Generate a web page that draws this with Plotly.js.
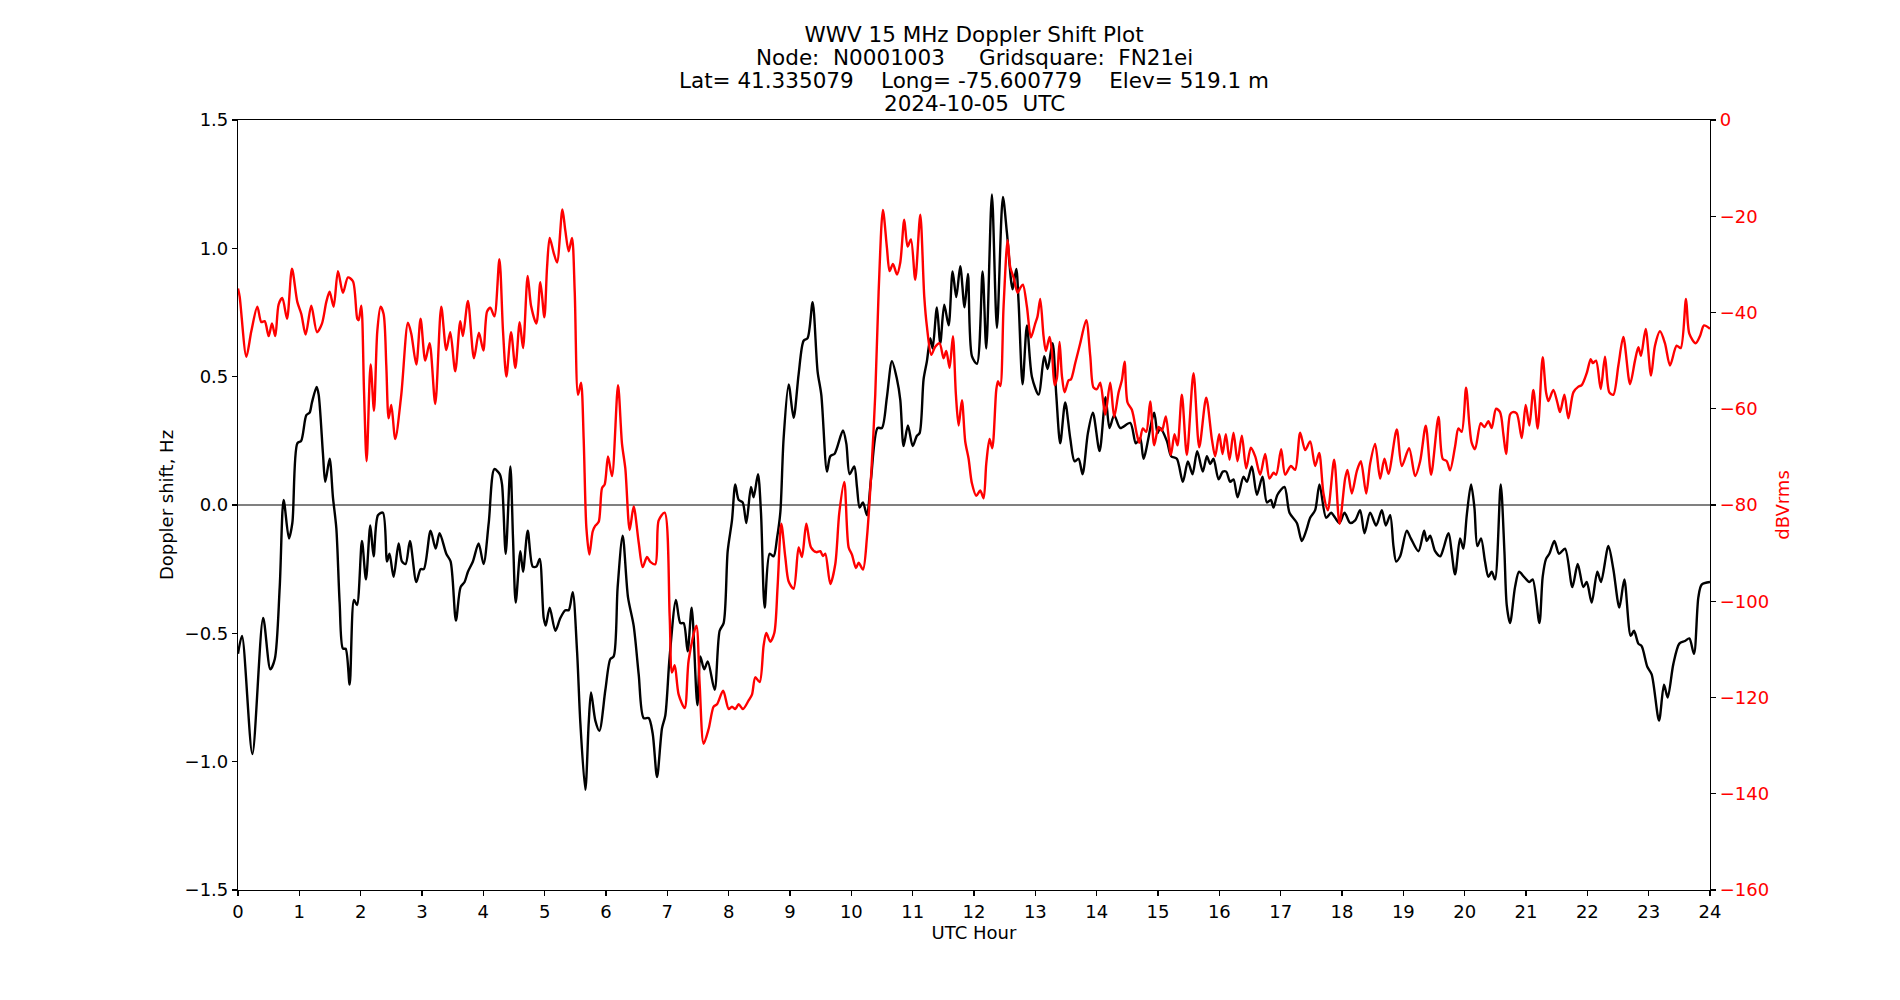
<!DOCTYPE html>
<html>
<head>
<meta charset="utf-8">
<script src="https://cdn.plot.ly/plotly-3.0.1.min.js"></script>
<style>html,body{margin:0;padding:0;background:#fff;}#chart{width:1900px;height:1000px;}</style>
</head>
<body>
<div id="chart"></div>
<script>
// ---- Data ----
const titleLines = [
  "WWV 15 MHz Doppler Shift Plot",
  "Node:  N0001003     Gridsquare:  FN21ei",
  "Lat= 41.335079    Long= -75.600779    Elev= 519.1 m",
  "2024-10-05  UTC"
];
const xLabel = "UTC Hour";
const yLabel = "Doppler shift, Hz";
const y2Label = "dBVrms";

const dopplerHour = [0.0,0.065,0.234,0.41,0.527,0.60,0.68,0.744,0.83,0.886,0.967,1.03,1.114,1.168,1.206,1.282,1.315,1.385,1.423,1.494,1.548,1.603,1.657,1.711,1.755,1.82,1.891,1.94,2.021,2.086,2.157,2.211,2.282,2.363,2.43,2.47,2.537,2.619,2.673,2.733,2.803,2.907,2.977,3.03,3.14,3.222,3.287,3.396,3.466,3.553,3.629,3.694,3.749,3.83,3.923,4.004,4.088,4.18,4.267,4.305,4.365,4.441,4.484,4.528,4.604,4.647,4.724,4.805,4.865,4.919,4.984,5.017,5.082,5.174,5.256,5.337,5.392,5.457,5.528,5.582,5.663,5.718,5.756,5.826,5.892,5.99,6.071,6.125,6.19,6.272,6.359,6.451,6.533,6.614,6.696,6.761,6.832,6.913,6.967,7.038,7.141,7.212,7.266,7.331,7.397,7.489,7.538,7.60,7.66,7.771,7.853,7.918,7.984,8.054,8.108,8.163,8.228,8.288,8.364,8.407,8.478,8.527,8.587,8.668,8.733,8.788,8.842,8.896,8.978,9.059,9.141,9.222,9.287,9.369,9.45,9.51,9.603,9.657,9.728,9.863,9.918,9.972,10.048,10.092,10.135,10.189,10.255,10.32,10.428,10.499,10.58,10.662,10.744,10.798,10.852,10.923,11.0,11.069,11.113,11.178,11.232,11.287,11.325,11.395,11.45,11.515,11.586,11.651,11.711,11.776,11.846,11.901,11.966,12.048,12.14,12.2,12.292,12.374,12.471,12.537,12.629,12.689,12.727,12.792,12.863,12.944,13.053,13.145,13.2,13.281,13.341,13.406,13.487,13.569,13.64,13.705,13.77,13.857,13.938,14.047,14.145,14.21,14.286,14.384,14.547,14.639,14.71,14.764,14.938,14.992,15.036,15.144,15.215,15.307,15.405,15.487,15.563,15.639,15.73,15.797,15.851,15.905,15.987,16.057,16.112,16.177,16.231,16.297,16.394,16.449,16.53,16.612,16.704,16.775,16.84,16.883,16.948,17.062,17.144,17.264,17.345,17.416,17.481,17.562,17.633,17.742,17.823,17.888,17.959,18.041,18.133,18.214,18.296,18.367,18.459,18.557,18.649,18.714,18.785,18.839,18.883,18.948,19.056,19.122,19.247,19.339,19.382,19.437,19.518,19.6,19.653,19.735,19.843,19.925,19.979,20.034,20.104,20.159,20.207,20.267,20.332,20.387,20.441,20.495,20.588,20.648,20.686,20.74,20.821,20.887,20.968,21.055,21.109,21.218,21.272,21.327,21.381,21.463,21.539,21.636,21.756,21.843,21.935,21.99,22.071,22.163,22.223,22.343,22.424,22.522,22.603,22.707,22.761,22.832,22.886,22.978,23.049,23.169,23.25,23.31,23.402,23.5,23.592,23.663,23.739,23.81,23.864,24.0];
const dopplerHz = [-0.58,-0.51,-0.97,-0.44,-0.64,-0.60,-0.32,0.02,-0.13,-0.07,0.24,0.25,0.35,0.36,0.40,0.46,0.43,0.20,0.09,0.18,0.03,-0.09,-0.38,-0.56,-0.56,-0.70,-0.37,-0.39,-0.14,-0.29,-0.08,-0.20,-0.04,-0.03,-0.22,-0.19,-0.28,-0.15,-0.22,-0.23,-0.14,-0.30,-0.25,-0.25,-0.10,-0.17,-0.11,-0.19,-0.22,-0.45,-0.32,-0.30,-0.26,-0.22,-0.15,-0.23,-0.07,0.14,0.12,0.08,-0.19,0.15,-0.13,-0.38,-0.18,-0.26,-0.10,-0.24,-0.24,-0.21,-0.44,-0.47,-0.40,-0.49,-0.44,-0.41,-0.41,-0.34,-0.57,-0.85,-1.11,-0.85,-0.73,-0.84,-0.88,-0.72,-0.60,-0.59,-0.32,-0.12,-0.36,-0.47,-0.66,-0.83,-0.83,-0.89,-1.06,-0.87,-0.82,-0.59,-0.37,-0.46,-0.46,-0.57,-0.40,-0.78,-0.59,-0.64,-0.61,-0.72,-0.49,-0.46,-0.18,-0.06,0.08,0.02,0.01,-0.07,0.07,0.03,0.12,-0.03,-0.40,-0.19,-0.20,-0.13,-0.03,0.26,0.47,0.34,0.51,0.64,0.65,0.79,0.52,0.43,0.13,0.19,0.20,0.29,0.24,0.12,0.15,0.07,-0.01,0.01,-0.04,0.10,0.30,0.30,0.42,0.56,0.49,0.41,0.23,0.31,0.23,0.27,0.28,0.49,0.56,0.65,0.61,0.77,0.63,0.78,0.70,0.91,0.81,0.93,0.77,0.90,0.58,0.55,0.91,0.61,1.21,0.69,1.20,1.06,0.84,0.92,0.79,0.47,0.70,0.50,0.43,0.58,0.53,0.63,0.43,0.24,0.40,0.26,0.17,0.18,0.12,0.28,0.36,0.21,0.42,0.30,0.35,0.30,0.32,0.24,0.26,0.18,0.36,0.28,0.30,0.25,0.19,0.18,0.09,0.17,0.12,0.21,0.13,0.19,0.16,0.18,0.10,0.13,0.13,0.09,0.10,0.03,0.11,0.09,0.15,0.04,0.11,0.01,0.02,-0.01,0.04,0.07,-0.03,-0.07,-0.14,-0.10,-0.05,-0.02,0.08,-0.05,-0.03,-0.05,-0.07,-0.03,-0.07,-0.06,-0.02,-0.11,-0.03,-0.08,-0.02,-0.08,-0.04,-0.16,-0.22,-0.20,-0.10,-0.13,-0.18,-0.10,-0.14,-0.12,-0.18,-0.20,-0.17,-0.11,-0.27,-0.13,-0.17,-0.04,0.08,-0.01,-0.16,-0.13,-0.22,-0.28,-0.26,-0.29,0.08,-0.18,-0.39,-0.46,-0.32,-0.26,-0.28,-0.30,-0.29,-0.46,-0.28,-0.21,-0.19,-0.14,-0.19,-0.17,-0.32,-0.23,-0.32,-0.30,-0.38,-0.26,-0.30,-0.16,-0.25,-0.40,-0.29,-0.51,-0.49,-0.54,-0.55,-0.63,-0.66,-0.84,-0.70,-0.75,-0.62,-0.54,-0.53,-0.52,-0.58,-0.36,-0.31,-0.30];

const signalHour = [0.0,0.027,0.136,0.217,0.315,0.38,0.435,0.5,0.554,0.608,0.663,0.723,0.799,0.88,0.967,1.032,1.103,1.195,1.288,1.369,1.44,1.494,1.559,1.63,1.711,1.793,1.874,1.945,1.967,2.01,2.054,2.097,2.162,2.217,2.271,2.325,2.374,2.418,2.456,2.499,2.564,2.662,2.771,2.825,2.907,2.977,3.053,3.124,3.216,3.314,3.396,3.461,3.542,3.624,3.667,3.749,3.847,3.928,4.0,4.061,4.115,4.18,4.262,4.321,4.376,4.452,4.522,4.593,4.647,4.723,4.778,4.865,4.93,4.995,5.039,5.082,5.147,5.202,5.289,5.337,5.392,5.446,5.49,5.544,5.593,5.636,5.68,5.729,5.783,5.826,5.881,5.935,5.979,6.033,6.098,6.196,6.261,6.315,6.386,6.451,6.533,6.598,6.668,6.723,6.804,6.859,6.956,7.038,7.076,7.12,7.185,7.283,7.348,7.473,7.527,7.592,7.674,7.755,7.81,7.91,8.0,8.054,8.108,8.163,8.233,8.326,8.38,8.434,8.505,8.57,8.614,8.679,8.744,8.798,8.858,8.923,8.978,9.059,9.141,9.195,9.266,9.342,9.429,9.494,9.537,9.575,9.657,9.738,9.804,9.885,9.956,10.01,10.075,10.119,10.19,10.255,10.32,10.39,10.445,10.515,10.58,10.624,10.678,10.744,10.798,10.863,10.917,10.972,11.042,11.124,11.189,11.232,11.303,11.368,11.439,11.504,11.548,11.602,11.656,11.705,11.749,11.803,11.857,11.912,11.966,12.037,12.102,12.156,12.2,12.254,12.298,12.363,12.39,12.428,12.482,12.548,12.591,12.645,12.711,12.754,12.797,12.863,12.928,12.998,13.036,13.08,13.134,13.172,13.232,13.27,13.314,13.352,13.395,13.433,13.477,13.542,13.58,13.651,13.732,13.83,13.895,13.949,14.004,14.058,14.139,14.221,14.286,14.357,14.411,14.455,14.503,14.574,14.655,14.694,14.753,14.808,14.873,14.938,15.009,15.063,15.128,15.21,15.269,15.318,15.389,15.47,15.579,15.672,15.786,15.878,15.932,15.998,16.052,16.106,16.166,16.231,16.297,16.367,16.438,16.514,16.585,16.666,16.747,16.818,16.883,16.927,17.008,17.073,17.166,17.236,17.318,17.4,17.481,17.562,17.628,17.698,17.769,17.872,17.959,18.051,18.089,18.16,18.241,18.307,18.394,18.459,18.54,18.622,18.692,18.758,18.893,18.975,19.094,19.192,19.274,19.366,19.453,19.573,19.642,19.708,19.762,19.843,19.898,19.952,20.023,20.077,20.115,20.169,20.262,20.322,20.387,20.441,20.512,20.577,20.631,20.675,20.74,20.783,20.849,20.93,20.995,21.055,21.12,21.191,21.272,21.327,21.365,21.446,21.511,21.555,21.626,21.691,21.772,21.854,21.908,21.99,22.055,22.09,22.142,22.218,22.288,22.359,22.424,22.506,22.587,22.696,22.777,22.832,22.875,22.951,23.038,23.103,23.185,23.266,23.348,23.456,23.522,23.609,23.663,23.766,23.837,23.902,24.0];
const signalDb = [-35,-36.7,-49.2,-43.9,-38.8,-42.0,-41.8,-44.9,-42.3,-44.9,-38.3,-37.0,-41.3,-30.9,-37.8,-40.3,-44.6,-38.6,-44.1,-42.3,-37.8,-35.7,-38.8,-31.4,-35.9,-32.7,-33.5,-41.3,-41.6,-38.6,-56.1,-70.9,-50.8,-60.4,-43.9,-38.8,-40.3,-51.0,-62.0,-59.2,-66.3,-57.1,-42.1,-44.4,-50.8,-41.3,-50.0,-46.4,-59.0,-38.8,-47.8,-44.1,-52.2,-41.8,-44.9,-37.6,-49.5,-44.2,-47.9,-39.8,-39.0,-40.8,-28.9,-43.9,-53.3,-44.1,-51.5,-42.0,-47.4,-32.4,-38.6,-42.3,-33.7,-41.0,-30.6,-24.5,-27.6,-29.6,-18.6,-23.0,-27.3,-24.5,-35.7,-57.1,-54.6,-66.3,-84.7,-90.3,-85.5,-84.3,-83.5,-76.5,-75.7,-69.9,-74.0,-55.1,-67.3,-72.4,-85.2,-80.3,-87.8,-92.9,-90.8,-91.8,-92.3,-83.2,-81.6,-103.1,-114.8,-113.3,-119.4,-122.2,-112.2,-105.1,-117.3,-129.6,-126.5,-121.9,-121.4,-118.6,-122.4,-121.9,-122.4,-121.4,-122.4,-120.6,-119.4,-115.8,-116.8,-109.2,-106.6,-108.4,-106.6,-96.9,-83.9,-90.8,-95.9,-97.4,-88.8,-90.8,-83.9,-88.8,-89.8,-89.6,-90.6,-90.1,-96.4,-92.3,-81.6,-75.2,-88.8,-90.3,-93.1,-92.0,-93.4,-86.7,-74.5,-57.1,-35.7,-18.7,-26.5,-31.4,-29.9,-32.1,-29.6,-20.7,-26.3,-24.8,-33.2,-19.7,-36.7,-42.9,-48.8,-47.1,-46.4,-49.5,-48.0,-51.5,-44.9,-57.1,-63.5,-58.2,-66.8,-70.4,-75.5,-78.1,-77.0,-78.6,-71.4,-66.3,-68.2,-56.1,-54.3,-55.3,-38.8,-25.0,-30.6,-32.7,-35.9,-34.9,-34.2,-38.8,-45.2,-42.3,-40.8,-37.2,-44.9,-48.0,-45.1,-48.0,-55.1,-53.6,-46.1,-53.1,-56.6,-54.1,-53.9,-50.5,-46.4,-41.6,-49.0,-55.6,-55.9,-54.6,-61.2,-54.6,-61.7,-56.6,-54.1,-50.2,-58.7,-60.2,-65.3,-67.1,-64.1,-64.8,-58.5,-67.6,-63.8,-64.6,-61.6,-69.6,-65.3,-67.6,-57.1,-69.6,-52.6,-68.0,-57.7,-66.3,-69.9,-65.3,-69.4,-65.3,-70.6,-65.0,-70.9,-65.6,-72.4,-68.1,-69.9,-73.7,-69.4,-74.5,-73.3,-73.7,-68.4,-73.7,-71.9,-72.7,-65.0,-68.6,-66.8,-71.9,-69.2,-77.6,-81.1,-70.6,-83.9,-74.5,-72.7,-77.6,-73.0,-70.9,-77.6,-71.4,-67.3,-74.5,-70.4,-73.5,-64.3,-71.9,-68.2,-74.0,-70.9,-63.5,-73.7,-61.7,-70.4,-70.9,-72.8,-67.9,-64.1,-64.8,-55.6,-63.3,-67.1,-68.4,-63.0,-63.8,-62.6,-64.0,-60.0,-60.7,-65.3,-69.4,-61.2,-60.7,-61.0,-66.1,-59.2,-63.5,-56.1,-64.1,-49.3,-56.6,-58.4,-56.1,-58.7,-60.7,-57.1,-62.0,-56.6,-55.4,-55.1,-52.6,-49.7,-50.5,-50.0,-55.9,-49.2,-56.6,-57.1,-51.0,-45.1,-54.9,-50.0,-47.2,-49.0,-43.4,-53.1,-46.9,-43.9,-46.4,-51.0,-46.9,-47.4,-37.2,-44.4,-46.4,-44.9,-42.7,-43.4];

// ---- Chart ----
const FONT = "DejaVu Sans, Liberation Sans, sans-serif";
const TICK = 18;
const TITLE = 21.5;
const traces = [
  {x: dopplerHour, y: dopplerHz, type: "scatter", mode: "lines", yaxis: "y",
   line: {color: "black", width: 2.4, shape: "spline", smoothing: 0.8}, hoverinfo: "x+y", showlegend: false},
  {x: signalHour, y: signalDb, type: "scatter", mode: "lines", yaxis: "y2",
   line: {color: "red", width: 2.4, shape: "spline", smoothing: 0.8}, hoverinfo: "x+y", showlegend: false}
];

// title lines 2..4 as annotations so the line spacing matches the reference
const lineY = [1.1112, 1.0812, 1.0512, 1.0212];
const annotations = titleLines.slice(1).map((t, i) => ({
  text: t, xref: "paper", yref: "paper", x: 0.5, y: lineY[i + 1],
  xanchor: "center", yanchor: "middle", showarrow: false,
  font: {family: FONT, size: TITLE, color: "black"}
}));

const layout = {
  width: 1900, height: 1000,
  paper_bgcolor: "white", plot_bgcolor: "white",
  margin: {l: 238, r: 190, t: 120, b: 110, pad: 0},
  font: {family: FONT, size: TICK, color: "black"},
  title: {text: titleLines[0], font: {family: FONT, size: TITLE, color: "black"},
          x: 0.5, xref: "paper", xanchor: "center", y: 0.9656, yref: "container", yanchor: "middle"},
  annotations: annotations,
  xaxis: {range: [0, 24], tickmode: "linear", tick0: 0, dtick: 1, ticks: "outside", ticklen: 5, tickwidth: 1.1,
          tickcolor: "black", showline: true, linecolor: "black", linewidth: 1.1, mirror: true,
          showgrid: false, zeroline: false, tickfont: {size: TICK},
          title: {text: xLabel, font: {size: TICK}, standoff: 4}},
  yaxis: {range: [-1.5, 1.5], tickmode: "linear", tick0: -1.5, dtick: 0.5, tickformat: ".1f",
          ticks: "outside", ticklen: 5, tickwidth: 1.1, tickcolor: "black",
          showline: true, linecolor: "black", linewidth: 1.1, showgrid: false,
          zeroline: true, zerolinecolor: "#808080", zerolinewidth: 1.1, tickfont: {size: TICK},
          title: {text: yLabel, font: {size: TICK}, standoff: 6}},
  yaxis2: {range: [-160, 0], overlaying: "y", side: "right", tickmode: "linear", tick0: 0, dtick: 20,
           ticks: "outside", ticklen: 5, tickwidth: 1.1, tickcolor: "black",
           showline: true, linecolor: "black", linewidth: 1.1, showgrid: false, zeroline: false,
           tickfont: {size: TICK, color: "red"},
           title: {text: y2Label, font: {size: TICK, color: "red"}, standoff: 8}}
};

Plotly.newPlot("chart", traces, layout, {displayModeBar: false, staticPlot: true});
</script>
</body>
</html>
